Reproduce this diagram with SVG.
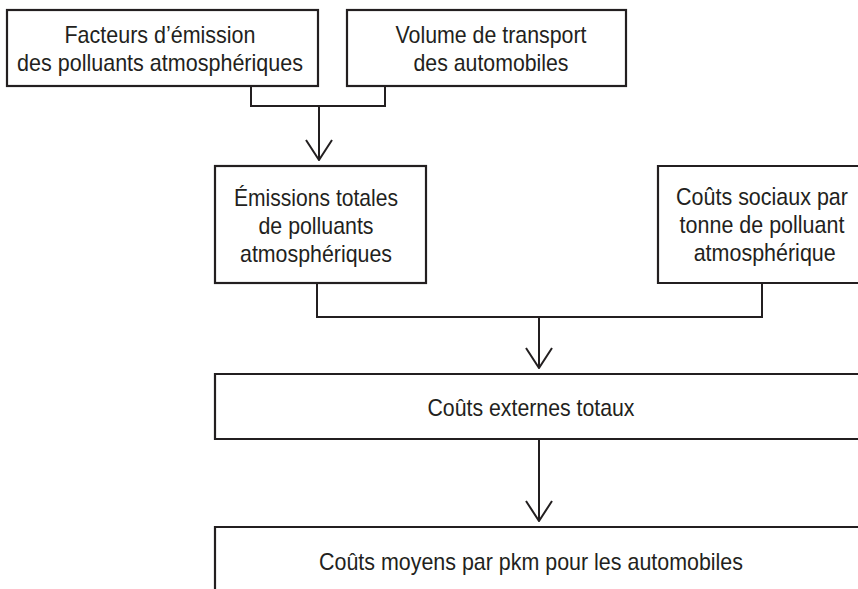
<svg xmlns="http://www.w3.org/2000/svg" width="858" height="589" viewBox="0 0 858 589">
  <style>
    .box { fill: #ffffff; stroke: #231f20; stroke-width: 2.2; }
    .lbl { font-family: "Liberation Sans", Arial, sans-serif; font-size: 24px; fill: #231f20; text-anchor: middle; }
    .wire { fill: none; stroke: #231f20; stroke-width: 2; }
  </style>
  <defs>
    <!-- open V arrowhead, drawn along +x so it follows the line direction -->
    <marker id="open-arrow" viewBox="0 0 22 28" refX="21" refY="14" markerWidth="22" markerHeight="28" markerUnits="userSpaceOnUse" orient="auto">
      <path d="M1,1 L21,14 L1,27" fill="none" stroke="#231f20" stroke-width="2"/>
    </marker>
  </defs>

  <rect width="858" height="589" fill="#ffffff"/>

  <g id="connectors">
    <path class="wire" d="M251,86 V106 H385 V86"/>
    <path class="wire" d="M319,106 V160" marker-end="url(#open-arrow)"/>
    <path class="wire" d="M317,283 V317 H762 V283"/>
    <path class="wire" d="M539,317 V368" marker-end="url(#open-arrow)"/>
    <path class="wire" d="M539,439 V521" marker-end="url(#open-arrow)"/>
  </g>

  <g id="facteurs-emission">
    <rect class="box" x="7" y="10" width="311" height="76"/>
    <text class="lbl" x="160" y="43" textLength="191" lengthAdjust="spacingAndGlyphs">Facteurs d’émission</text>
    <text class="lbl" x="160" y="71" textLength="286" lengthAdjust="spacingAndGlyphs">des polluants atmosphériques</text>
  </g>

  <g id="volume-transport">
    <rect class="box" x="347" y="10" width="279" height="76"/>
    <text class="lbl" x="491" y="43" textLength="191" lengthAdjust="spacingAndGlyphs">Volume de transport</text>
    <text class="lbl" x="491" y="71" textLength="155" lengthAdjust="spacingAndGlyphs">des automobiles</text>
  </g>

  <g id="emissions-totales">
    <rect class="box" x="215" y="166" width="211" height="117"/>
    <text class="lbl" x="316" y="206" textLength="164" lengthAdjust="spacingAndGlyphs">Émissions totales</text>
    <text class="lbl" x="316" y="234" textLength="115" lengthAdjust="spacingAndGlyphs">de polluants</text>
    <text class="lbl" x="316" y="262" textLength="152" lengthAdjust="spacingAndGlyphs">atmosphériques</text>
  </g>

  <!-- the boxes below run past the right edge of the sheet -->
  <g id="couts-sociaux">
    <path class="box" d="M860,166 H658 V283 H860"/>
    <g transform="translate(762,0) scale(0.895,1)">
      <text class="lbl" x="0" y="205">Coûts sociaux par</text>
      <text class="lbl" x="0" y="233">tonne de polluant</text>
      <text class="lbl" x="3" y="261">atmosphérique</text>
    </g>
  </g>

  <g id="couts-externes">
    <path class="box" d="M860,374 H215 V439 H860"/>
    <text class="lbl" x="531" y="416" textLength="207" lengthAdjust="spacingAndGlyphs">Coûts externes totaux</text>
  </g>

  <g id="couts-moyens">
    <path class="box" d="M860,527 H215 V592"/>
    <text class="lbl" x="531" y="570" textLength="424" lengthAdjust="spacingAndGlyphs">Coûts moyens par pkm pour les automobiles</text>
  </g>
</svg>
